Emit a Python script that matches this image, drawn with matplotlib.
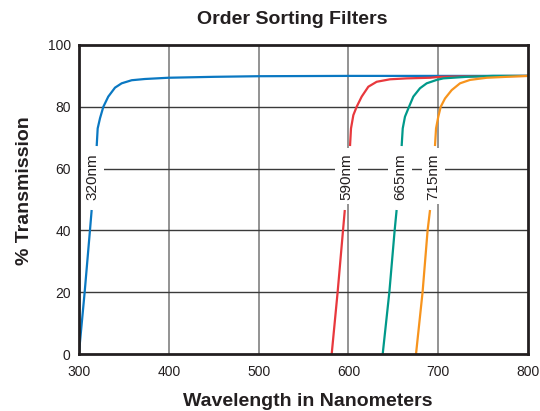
import numpy as np
import matplotlib
matplotlib.use("Agg")
import matplotlib.pyplot as plt

plt.rcParams['font.family'] = ['Liberation Sans', 'DejaVu Sans']

# ---- data ----
blue_lo_wl = [300, 306.3, 312.2, 314.1]
blue_lo_t = [0.5, 20, 40, 46.6]
blue_hi_wl = [319.7, 320.8, 323.4, 327.1, 332.6, 340.1, 347.5, 358.7, 373.5, 399.4, 450, 500, 600, 700, 800]
blue_hi_t = [67.3, 73.0, 76.3, 80.0, 83.3, 86.2, 87.6, 88.6, 89.0, 89.4, 89.7, 89.9, 90, 90, 90]

red_lo_wl = [581.4, 588, 594, 596]
red_lo_t = [0, 20, 40, 46.6]
red_hi_wl = [601.8, 602.9, 605.5, 609.2, 614.8, 622.2, 631.5, 646.3, 664.9, 690.9, 702, 750, 800]
red_hi_t = [67.3, 73.0, 77.3, 80.0, 83.3, 86.5, 88.1, 88.9, 89.2, 89.4, 89.7, 89.9, 90]

teal_lo_wl = [638.2, 645.6, 651.5, 653.7]
teal_lo_t = [0, 20, 40, 46.6]
teal_hi_wl = [659.3, 660.5, 663.0, 667.5, 672.3, 679.7, 687.2, 698.3, 705.7, 731.7, 761, 800]
teal_hi_t = [67.3, 73.0, 76.8, 80.0, 83.3, 86.0, 87.6, 88.7, 89.2, 89.7, 90, 90]

orange_lo_wl = [675.3, 682.6, 688.2, 690.9]
orange_lo_t = [0, 20, 40, 46.6]
orange_hi_wl = [696.4, 697.6, 700.1, 702.8, 707.6, 715.0, 724.3, 735.4, 754.0, 776.3, 800]
orange_hi_t = [67.3, 73.0, 76.8, 80.0, 82.7, 85.4, 87.6, 88.7, 89.4, 89.7, 90]

label_texts = ['320nm', '590nm', '665nm', '715nm']
label_wl = [315, 598, 657.5, 694.5]
label_t = [57.5, 57.5, 57.5, 57.5]

x_ticks = [300, 400, 500, 600, 700, 800]
y_ticks = [0, 20, 40, 60, 80, 100]

colors = ['#0a78c2', '#e8383d', '#00998a', '#f7941d']

fig = plt.figure(figsize=(5.4, 4.11), dpi=100)
ax = fig.add_axes([79/540, 57/411, 449/540, 309/411])

# grid
for xv in x_ticks[1:-1]:
    ax.axvline(xv, color='#808080', lw=1.2, zorder=1)
for yv in y_ticks[1:-1]:
    ax.axhline(yv, color='#3a3a3a', lw=1.0, zorder=1)

series = [
    (blue_lo_wl, blue_lo_t, blue_hi_wl, blue_hi_t),
    (red_lo_wl, red_lo_t, red_hi_wl, red_hi_t),
    (teal_lo_wl, teal_lo_t, teal_hi_wl, teal_hi_t),
    (orange_lo_wl, orange_lo_t, orange_hi_wl, orange_hi_t),
]
for (lw_, lt, hw, ht), c in zip(series, colors):
    ax.plot(lw_, lt, color=c, lw=1.6, zorder=3, solid_capstyle='butt')
    ax.plot(hw, ht, color=c, lw=1.6, zorder=3, solid_capstyle='butt',
            solid_joinstyle='round')

for txt, xw, yt in zip(label_texts, label_wl, label_t):
    ax.text(xw, yt, txt, rotation=90, ha='center', va='center', fontsize=11,
            color='#231f20', zorder=4,
            bbox=dict(boxstyle='square,pad=0.3', fc='white', ec='none'))

ax.set_xlim(300, 800)
ax.set_ylim(0, 100)
ax.set_xticks(x_ticks)
ax.set_yticks(y_ticks)
ax.tick_params(length=0, labelsize=10, colors='#231f20', pad=8)
ax.tick_params(axis='y', pad=6)
for s in ax.spines.values():
    s.set_color('#231f20')
    s.set_linewidth(2)
    s.set_zorder(5)

fig.text(292/540, 1 - 20/411, 'Order Sorting Filters', ha='center', va='center',
         fontsize=14, fontweight='bold', color='#231f20')
fig.text(308/540, 1 - 401/411, 'Wavelength in Nanometers', ha='center', va='center',
         fontsize=14, fontweight='bold', color='#231f20')
fig.text(25/540, 1 - 191/411, '% Transmission', ha='center', va='center',
         rotation=90, fontsize=14, fontweight='bold', color='#231f20')

fig.savefig('out.png', dpi=100, facecolor='white')
